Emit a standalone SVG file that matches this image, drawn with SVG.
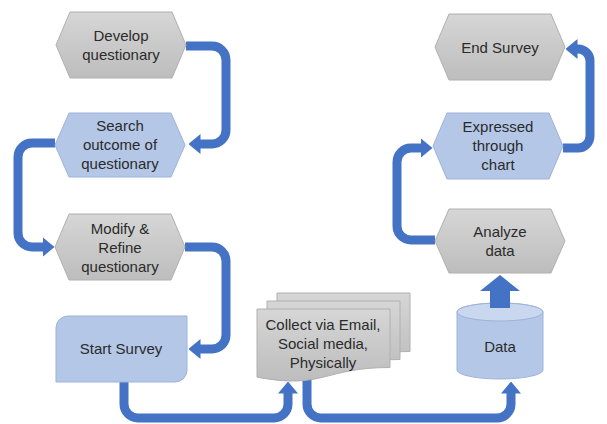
<svg xmlns="http://www.w3.org/2000/svg" width="607" height="424" viewBox="0 0 607 424">
  <defs>
    <linearGradient id="greyFill" x1="0" y1="0" x2="0" y2="1">
      <stop offset="0" stop-color="#D6D6D6"/>
      <stop offset="1" stop-color="#BDBDBD"/>
    </linearGradient>
    <marker id="head" viewBox="0 0 12 20" refX="0.5" refY="10" markerWidth="12" markerHeight="20" markerUnits="userSpaceOnUse" orient="auto">
      <path d="M0,0 L12,10 L0,20 Z" fill="#4472C4"/>
    </marker>
    <style>
      .grey { fill: url(#greyFill); stroke: #B0B0B0; stroke-width: 1; }
      .blue { fill: #B4C7E7; stroke: #9DB3DC; stroke-width: 1; }
      .lbl { font-family: "Liberation Sans", Arial, sans-serif; font-size: 15px; fill: #2B2B2B; text-anchor: middle; }
      .flow { fill: none; stroke: #4472C4; stroke-width: 9; stroke-linejoin: round; marker-end: url(#head); }
    </style>
  </defs>
  <rect width="607" height="424" fill="#FFFFFF"/>

  <!-- connectors -->
  <g id="connectors">
    <path class="flow" d="M186 46 H212 A14 14 0 0 1 226 60 V130 A14 14 0 0 1 212 144 H200"/>
    <path class="flow" d="M55 143 H32 A14 14 0 0 0 18 157 V233 A14 14 0 0 0 32 247 H43"/>
    <path class="flow" d="M185 247 H212 A14 14 0 0 1 226 261 V335 A14 14 0 0 1 212 349 H200"/>
    <path class="flow" d="M124 382 V404 A14 14 0 0 0 138 418 H274 A14 14 0 0 0 288 404 V393"/>
    <path class="flow" d="M307 376 V404 A14 14 0 0 0 321 418 H497 A14 14 0 0 0 511 404 V393"/>
    <path class="flow" d="M435 240 H411 A14 14 0 0 1 397 226 V162 A14 14 0 0 1 411 148 H421"/>
    <path class="flow" d="M563 148 H578 A12 12 0 0 0 590 136 V61 A12 12 0 0 0 578 49 H577"/>
  </g>

  <g id="develop">
    <polygon class="grey" points="56,45 70,12 172,12 186,45 172,78 70,78"/>
    <text class="lbl" x="121" y="41">Develop</text>
    <text class="lbl" x="121" y="60">questionary</text>
  </g>

  <g id="search">
    <polygon class="blue" points="55,145 69,113 171,113 185,145 171,177 69,177"/>
    <text class="lbl" x="120" y="131">Search</text>
    <text class="lbl" x="120" y="150">outcome of</text>
    <text class="lbl" x="120" y="169">questionary</text>
  </g>

  <g id="modify">
    <polygon class="grey" points="55,247 69,214 171,214 185,247 171,280 69,280"/>
    <text class="lbl" x="120" y="234">Modify &amp;</text>
    <text class="lbl" x="120" y="253">Refine</text>
    <text class="lbl" x="120" y="272">questionary</text>
  </g>

  <g id="start">
    <path class="blue" d="M68 316 H187 V370 A12 12 0 0 1 175 382 H56 V328 A12 12 0 0 1 68 316 Z"/>
    <text class="lbl" x="121" y="354">Start Survey</text>
  </g>

  <g id="collect">
    <path class="grey" d="M277 293 H410 V351.5 C343.5 351.5 343.5 373.8 277 361.2 Z"/>
    <path class="grey" d="M267 301 H400 V359.5 C333.5 359.5 333.5 381.8 267 369.2 Z"/>
    <path class="grey" d="M257 309 H390 V367.5 C323.5 367.5 323.5 389.8 257 377.2 Z"/>
    <text class="lbl" x="323" y="330">Collect via Email,</text>
    <text class="lbl" x="323" y="349">Social media,</text>
    <text class="lbl" x="323" y="368">Physically</text>
  </g>

  <g id="data">
    <path class="blue" d="M457 312 A43 9 0 0 1 543 312 V370 A43 9 0 0 1 457 370 Z"/>
    <ellipse cx="500" cy="312" rx="43" ry="9" fill="#C9D7EF" stroke="#9DB3DC" stroke-width="1"/>
    <text class="lbl" x="500" y="352">Data</text>
  </g>

  <!-- block arrow from the data store up into analysis -->
  <polygon points="490,308 510,308 510,291 520,291 500,275 480,291 490,291" fill="#4472C4"/>

  <g id="analyze">
    <polygon class="grey" points="435,241 449,209 551,209 565,241 551,273 449,273"/>
    <text class="lbl" x="500" y="237">Analyze</text>
    <text class="lbl" x="500" y="256">data</text>
  </g>

  <g id="expressed">
    <polygon class="blue" points="433,146 447,113 549,113 563,146 549,179 447,179"/>
    <text class="lbl" x="498" y="132">Expressed</text>
    <text class="lbl" x="498" y="151">through</text>
    <text class="lbl" x="498" y="170">chart</text>
  </g>

  <g id="end">
    <polygon class="grey" points="435,47 449,14 551,14 565,47 551,80 449,80"/>
    <text class="lbl" x="500" y="53">End Survey</text>
  </g>
</svg>
